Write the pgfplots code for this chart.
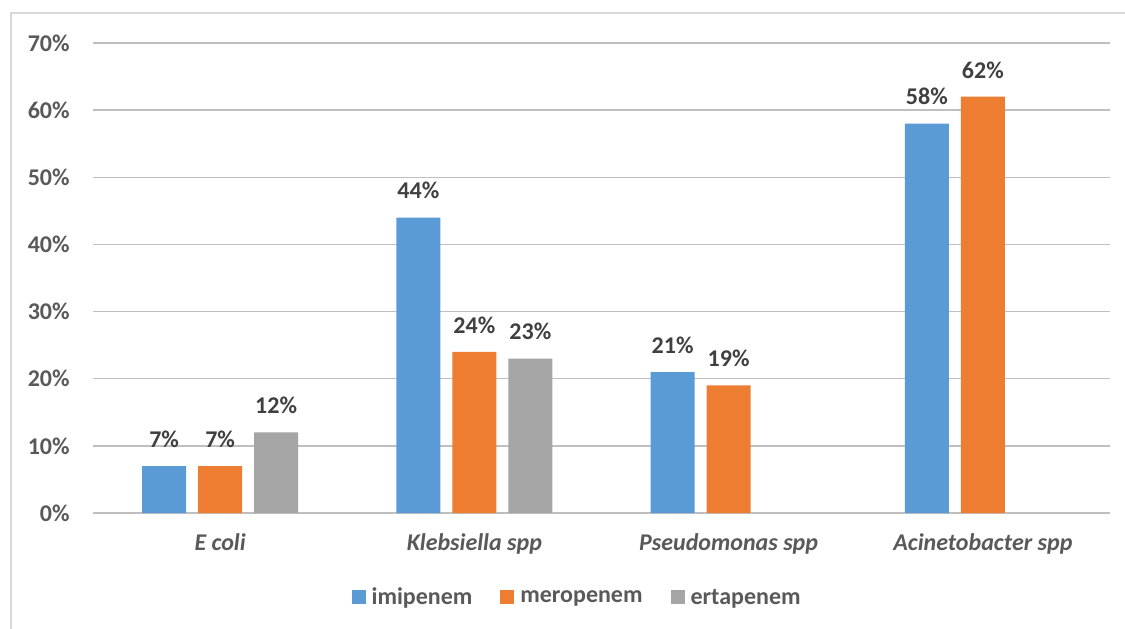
\documentclass[border=0pt]{standalone}
\usepackage{pgfplots}
\pgfplotsset{compat=1.18}
\usepackage{fontspec}
\setmainfont{Carlito}
\definecolor{cblue}{HTML}{5B9BD5}
\definecolor{corange}{HTML}{ED7D31}
\definecolor{cgray}{HTML}{A5A5A5}
\definecolor{grid}{HTML}{D9D9D9}
\definecolor{tick}{HTML}{595959}
\definecolor{lab}{HTML}{404040}
\begin{document}
\begin{tikzpicture}[x=0.5pt,y=0.5pt]
\useasboundingbox (0,0) rectangle (1125,628);
\begin{scope}
\clip (0,0) rectangle (1125,628);
\draw[grid, line width=1pt] (11,-20) -- (11,615) -- (1200,615);
\end{scope}
\begin{axis}[
  at={(46.5pt,57.5pt)}, anchor=south west,
  scale only axis, width=508.5pt, height=235pt,
  xmin=-0.5, xmax=3.5, ymin=0, ymax=70,
  xtick={0,1,2,3},
  xticklabels={E coli, Klebsiella spp, Pseudomonas spp, Acinetobacter spp},
  ytick={0,10,20,30,40,50,60,70},
  yticklabels={0\%,10\%,20\%,30\%,40\%,50\%,60\%,70\%},
  ymajorgrids, xmajorgrids=false, grid style={grid, line width=0.7pt},
  axis line style={draw=none},
  major tick length=0pt,
  tick style={draw=none},
  xticklabel style={font=\fontsize{12}{14}\selectfont\bfseries\itshape, text=tick, anchor=north, inner sep=0pt, yshift=-10pt},
  yticklabel style={font=\fontsize{12}{14}\selectfont\bfseries, text=tick, anchor=east, inner sep=0pt, xshift=-11.5pt},
  ybar=0pt, bar width=22pt,
  nodes near coords={\pgfmathprintnumber{\pgfplotspointmeta}\%},
  nodes near coords style={font=\fontsize{12}{14}\selectfont\bfseries, text=lab, anchor=south, inner sep=0pt, yshift=9pt, /pgf/number format/assume math mode=true},
  legend columns=3,
  legend style={at={(0.478,-0.181)}, anchor=center, draw=none, fill=none,
    font=\fontsize{12}{14}\selectfont\bfseries, text=tick,
    /tikz/every even column/.append style={column sep=11pt},
    nodes={inner xsep=3pt, inner ysep=0pt}},
  legend image code/.code={\fill[#1] (0pt,-3pt) rectangle (7pt,4pt);},
]
\addplot[fill=cblue, draw=none, bar shift=-28pt] coordinates {(0,7) (1,44) (2,21) (3,58)};
\addplot[fill=corange, draw=none, bar shift=0pt] coordinates {(0,7) (1,24) (2,19) (3,62)};
\addplot[fill=cgray, draw=none, bar shift=28pt] coordinates {(0,12) (1,23)};
\legend{imipenem, meropenem, ertapenem}
\end{axis}
\end{tikzpicture}
\end{document}
